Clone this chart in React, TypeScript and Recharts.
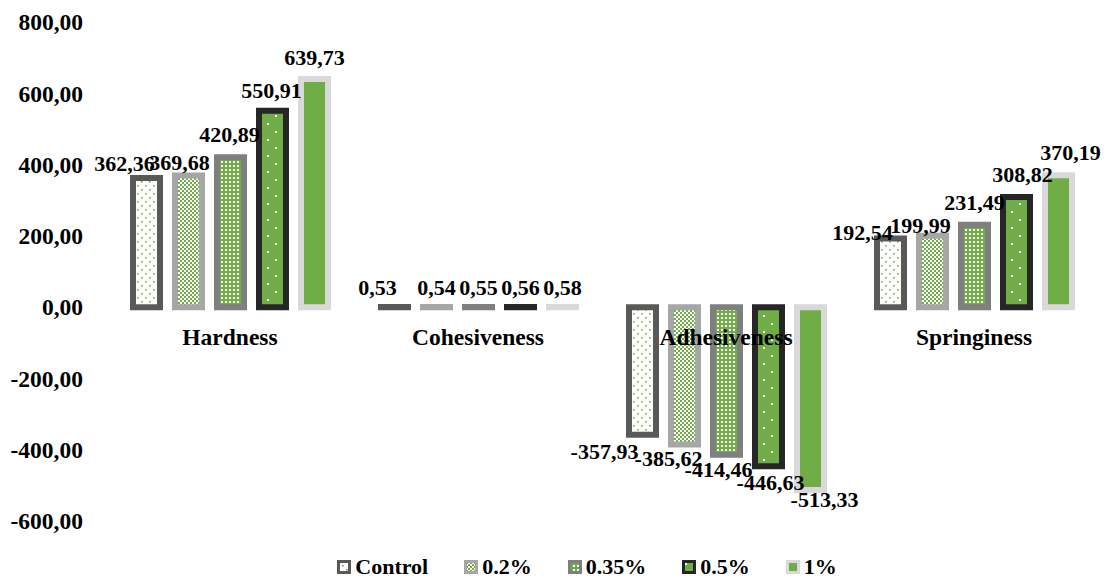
import React from 'react';
import { BarChart, Bar, XAxis, YAxis, LabelList } from 'recharts';

const categories = ['Hardness', 'Cohesiveness', 'Adhesiveness', 'Springiness'];
const control = [362.36, 0.53, -357.93, 192.54];
const p02 = [369.68, 0.54, -385.62, 199.99];
const p035 = [420.89, 0.55, -414.46, 231.49];
const p05 = [550.91, 0.56, -446.63, 308.82];
const p1 = [639.73, 0.58, -513.33, 370.19];
const yTicks = [-600, -400, -200, 0, 200, 400, 600, 800];

const seriesNames = ['Control', '0.2%', '0.35%', '0.5%', '1%'];
const seriesKeys = ['control', 'p02', 'p035', 'p05', 'p1'];

const data = categories.map((name, i) => ({
  name,
  control: control[i],
  p02: p02[i],
  p035: p035[i],
  p05: p05[i],
  p1: p1[i],
}));

const GREEN = '#70AD47';
const STROKES = ['#595959', '#A6A6A6', '#7F7F7F', '#262626', '#D9D9D9'];
const FILLS = ['url(#patCtrl)', 'url(#pat02)', 'url(#pat035)', 'url(#pat05)', GREEN];

// label nudges (per category, per series) so crowded labels sit like the original
const LABEL_DX = [
  [-22, -9, -1, -1, 0],
  [-17, 0, 0, 0, 0],
  [-38, -16, -8, 2, 14],
  [-28, -12, 0, 6, 12],
];
const LABEL_DY = [
  [5, 7, -3, -1, -2],
  [0, 0, 0, 0, 0],
  [2, -1, 0, 2, -5],
  [13, 9, -3, -3, -3],
];

const FONT = "'Liberation Serif', 'Times New Roman', Times, 'DejaVu Serif', serif";

const W = 1110;
const H = 578;
const M = { top: 22, right: 12, bottom: 56, left: 0 };
const Y_MIN = -600;
const Y_MAX = 800;
const plotH = H - M.top - M.bottom - 1;
const zeroY = M.top + (plotH * Y_MAX) / (Y_MAX - Y_MIN);

const fmt = (v: number) => v.toFixed(2).replace('.', ',');

const makeLabel = (si: number) => (props: any) => {
  const { x, y, width, height, value, index } = props;
  const top = Math.min(y, y + height);
  const bottom = Math.max(y, y + height);
  const cx = x + width / 2 + LABEL_DX[index][si];
  const ty = (value >= 0 ? top - 12 : bottom + 22) + LABEL_DY[index][si];
  return (
    <text x={cx} y={ty} textAnchor="middle" style={{ fontFamily: FONT }} fontWeight="bold" fontSize={22} fill="#000">
      {fmt(value)}
    </text>
  );
};

const CategoryTick = (props: any) => {
  const { x, payload } = props;
  return (
    <text x={x} y={zeroY + 38} textAnchor="middle" style={{ fontFamily: FONT }} fontWeight="bold" fontSize={23.5} fill="#000">
      {payload.value}
    </text>
  );
};

const Patterns = () => (
  <defs>
    <pattern id="patCtrl" width="8" height="8" patternUnits="userSpaceOnUse">
      <rect width="8" height="8" fill="#fff" />
      <rect x="1" y="1" width="1.6" height="1.6" fill={GREEN} />
      <rect x="5" y="5" width="1.6" height="1.6" fill={GREEN} />
    </pattern>
    <pattern id="pat02" width="4" height="4" patternUnits="userSpaceOnUse">
      <rect width="4" height="4" fill="#fff" />
      <rect x="0" y="0" width="2" height="2" fill={GREEN} />
      <rect x="2" y="2" width="2" height="2" fill={GREEN} />
    </pattern>
    <pattern id="pat035" width="4" height="4" patternUnits="userSpaceOnUse">
      <rect width="4" height="4" fill={GREEN} />
      <rect x="1" y="1" width="2" height="2" fill="#fff" />
    </pattern>
    <pattern id="pat05" width="16" height="16" patternUnits="userSpaceOnUse">
      <rect width="16" height="16" fill={GREEN} />
      <rect x="3" y="3" width="2" height="2" fill="#fff" />
      <rect x="11" y="11" width="2" height="2" fill="#fff" />
    </pattern>
  </defs>
);

const LegendRow = () => (
  <div
    style={{
      position: 'absolute',
      left: 0,
      top: 556,
      width: W,
      display: 'flex',
      justifyContent: 'center',
      gap: 36,
      fontFamily: FONT,
      fontWeight: 'bold',
      fontSize: 22,
      color: '#000',
      paddingLeft: 64,
      boxSizing: 'border-box',
    }}
  >
    {seriesNames.map((n, i) => (
      <div key={n} style={{ display: 'flex', alignItems: 'center', gap: 4 }}>
        <svg width={14} height={14}>
          <rect x={1.5} y={1.5} width={11} height={11} fill={FILLS[i]} stroke={STROKES[i]} strokeWidth={3} />
        </svg>
        <span style={{ lineHeight: '22px' }}>{n}</span>
      </div>
    ))}
  </div>
);

export default function App() {
  return (
    <div style={{ position: 'absolute', left: 0, top: 0, width: W, height: H, background: '#fff' }}>
      <BarChart width={W} height={H} data={data} margin={M} barSize={27} barGap={15}>
        <Patterns />
        <XAxis dataKey="name" height={1} axisLine={false} tickLine={false} tick={<CategoryTick />} interval={0} />
        <YAxis
          width={106}
          domain={[Y_MIN, Y_MAX]}
          ticks={yTicks}
          axisLine={false}
          tickLine={false}
          tickSize={0}
          tickMargin={23}
          tickFormatter={fmt}
          tick={{ style: { fontFamily: FONT }, fontWeight: 'bold', fontSize: 23.5, fill: '#000' }}
        />
        {seriesKeys.map((k, i) => (
          <Bar key={k} dataKey={k} name={seriesNames[i]} fill={FILLS[i]} stroke={STROKES[i]} strokeWidth={6} isAnimationActive={false}>
            <LabelList dataKey={k} content={makeLabel(i)} />
          </Bar>
        ))}
      </BarChart>
      <LegendRow />
    </div>
  );
}
